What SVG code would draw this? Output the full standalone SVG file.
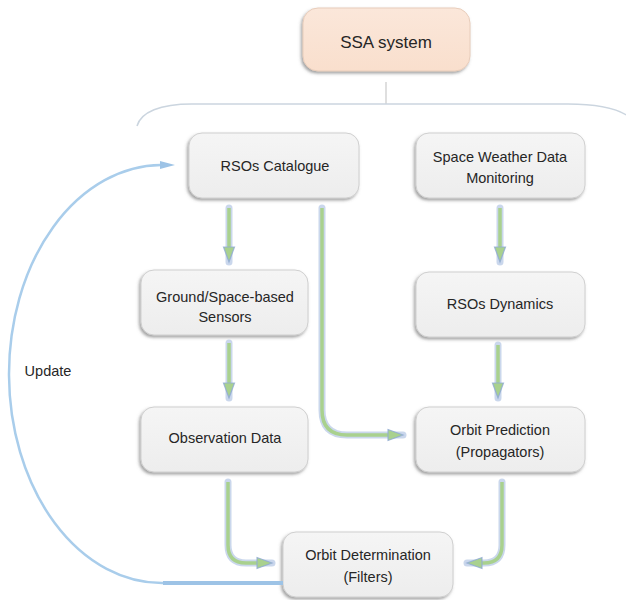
<svg xmlns="http://www.w3.org/2000/svg" width="626" height="600" viewBox="0 0 626 600">
<defs>
<filter id="sh" x="-20%" y="-20%" width="140%" height="150%">
<feDropShadow dx="-1.5" dy="2" stdDeviation="1.8" flood-color="#555" flood-opacity="0.55"/>
</filter>
<linearGradient id="gbox" x1="0" y1="0" x2="0" y2="1">
<stop offset="0" stop-color="#F5F5F5"/><stop offset="1" stop-color="#EDEDED"/>
</linearGradient>
<linearGradient id="gssa" x1="0" y1="0" x2="0" y2="1">
<stop offset="0" stop-color="#FBE7DA"/><stop offset="1" stop-color="#F9DFCD"/>
</linearGradient>
<marker id="ah" markerUnits="userSpaceOnUse" markerWidth="18" markerHeight="14" refX="1" refY="5.5" orient="auto" overflow="visible">
<path d="M0,0 L15,5.5 L0,11 z" fill="#A9D18E" stroke="#8FA9D6" stroke-width="1.2" stroke-opacity="0.8"/>
</marker>
<marker id="ahu" markerUnits="userSpaceOnUse" markerWidth="20" markerHeight="12" refX="1" refY="4" orient="auto" overflow="visible">
<path d="M0,0 L15,4 L0,8 z" fill="#9DC3E6"/>
</marker>
<style>
.box{fill:url(#gbox);stroke:#CFCFCF;stroke-width:1;filter:url(#sh)}
.t{font-family:"Liberation Sans",Arial,sans-serif;font-size:14.5px;fill:#262626;text-anchor:middle}
.glow{fill:none;stroke:#9FB6DC;stroke-width:7;stroke-opacity:0.55;stroke-linecap:round}
.ar{fill:none;stroke:#A9D18E;stroke-width:3.5}
</style>
</defs>

<g id="ssa">
<rect x="303" y="8" width="167" height="63" rx="15" fill="url(#gssa)" stroke="#E8CDBB" filter="url(#sh)"/>
<text class="t" x="386" y="48" style="font-size:17px">SSA system</text>
</g>

<g id="bracket" fill="none">
<line x1="386" y1="82" x2="386" y2="104" stroke="#BFBFBF" stroke-width="1"/>
<path d="M137,126 C141,112 160,104 192,104 L568,104 C598,104 616,108 628,116" stroke="#CBD5DF" stroke-width="1.5"/>
</g>

<g id="catalogue">
<rect class="box" x="189" y="133" width="170" height="65" rx="13"/>
<text class="t" x="275" y="171">RSOs Catalogue</text>
</g>
<g id="weather">
<rect class="box" x="416" y="133" width="169" height="65" rx="13"/>
<text class="t" x="500" y="162">Space Weather Data</text>
<text class="t" x="500" y="183">Monitoring</text>
</g>
<g id="sensors">
<rect class="box" x="141" y="270" width="167" height="65" rx="13"/>
<text class="t" x="225" y="302">Ground/Space-based</text>
<text class="t" x="225" y="322">Sensors</text>
</g>
<g id="dynamics">
<rect class="box" x="416" y="272" width="169" height="65" rx="13"/>
<text class="t" x="500" y="309">RSOs Dynamics</text>
</g>
<g id="observation">
<rect class="box" x="141" y="407" width="167" height="65" rx="13"/>
<text class="t" x="225" y="443">Observation Data</text>
</g>
<g id="prediction">
<rect class="box" x="416" y="407" width="169" height="65" rx="13"/>
<text class="t" x="500" y="435">Orbit Prediction</text>
<text class="t" x="500" y="457">(Propagators)</text>
</g>
<g id="determination">
<rect class="box" x="283" y="532" width="170" height="65" rx="13"/>
<text class="t" x="368" y="560">Orbit Determination</text>
<text class="t" x="368" y="582">(Filters)</text>
</g>

<g id="connectors">
<g id="update">
<path d="M283,583 L163,583" fill="none" stroke="#9DC3E6" stroke-width="4"/>
<path d="M163,583 A153,209 0 0 1 161,165" fill="none" stroke="#A9CDEB" stroke-width="2.5" marker-end="url(#ahu)"/>
<text class="t" x="48" y="376">Update</text>
</g>
<path class="glow" d="M229,208 L229,262"/>
<path class="ar" d="M229,208 L229,248" marker-end="url(#ah)"/>
<path class="glow" d="M229,343 L229,398"/>
<path class="ar" d="M229,343 L229,384" marker-end="url(#ah)"/>
<path class="glow" d="M500,208 L500,262"/>
<path class="ar" d="M500,208 L500,248" marker-end="url(#ah)"/>
<path class="glow" d="M498,345 L498,398"/>
<path class="ar" d="M498,345 L498,384" marker-end="url(#ah)"/>
<path class="glow" d="M322,208 L322,410 Q322,435 347,435 L403,435"/>
<path class="ar" d="M322,208 L322,410 Q322,435 347,435 L389,435" marker-end="url(#ah)"/>
<path class="glow" d="M228,482 L228,545 Q228,563 246,563 L272,563"/>
<path class="ar" d="M228,482 L228,545 Q228,563 246,563 L258,563" marker-end="url(#ah)"/>
<path class="glow" d="M502,482 L502,545 Q502,563 484,563 L467,563"/>
<path class="ar" d="M502,482 L502,545 Q502,563 484,563 L481,563" marker-end="url(#ah)"/>
</g>
</svg>
